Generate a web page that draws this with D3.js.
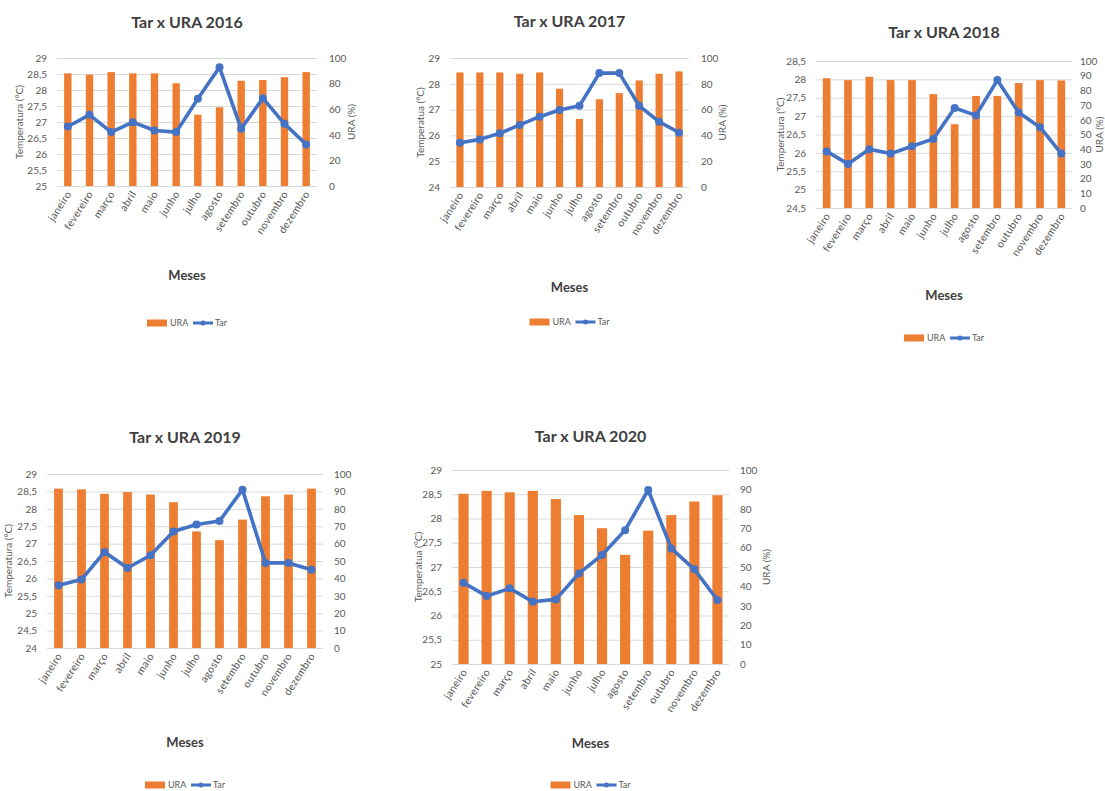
<!DOCTYPE html>
<html>
<head>
<meta charset="utf-8">
<script src="https://cdn.jsdelivr.net/npm/d3@7"></script>
<style>
  html, body { margin: 0; padding: 0; background: #fff; }
  svg { display: block; }
  text { font-family: Lato, "Open Sans", sans-serif; }
</style>
</head>
<body>
<svg id="fig" width="1105" height="791"></svg>
<script>
// Months on the category axis
const meses = ["janeiro", "fevereiro", "março", "abril", "maio", "junho",
  "julho", "agosto", "setembro", "outubro", "novembro", "dezembro"];

// Bar series (legend "URA"), read against the left axis
const ura2016 = [28.52, 28.48, 28.56, 28.52, 28.52, 28.21, 27.23, 27.46, 28.29, 28.31, 28.40, 28.56];
const ura2017 = [28.44, 28.44, 28.44, 28.39, 28.44, 27.81, 26.64, 27.40, 27.64, 28.13, 28.39, 28.48];
const ura2018 = [28.03, 27.98, 28.07, 27.98, 27.98, 27.60, 26.78, 27.55, 27.55, 27.90, 27.98, 27.97];
const ura2019 = [28.58, 28.56, 28.43, 28.48, 28.41, 28.19, 27.35, 27.10, 27.69, 28.36, 28.41, 28.58];
const ura2020 = [28.51, 28.57, 28.54, 28.57, 28.40, 28.07, 27.80, 27.25, 27.75, 28.07, 28.35, 28.48];

// Line series (legend "Tar"), read against the right axis
const tar2016 = [46.5, 55.6, 42.1, 49.9, 43.4, 42.1, 68.1, 92.7, 44.7, 68.6, 48.6, 32.5];
const tar2017 = [34.3, 36.9, 41.6, 48.1, 54.5, 59.7, 62.9, 88.3, 88.3, 62.9, 50.6, 42.1];
const tar2018 = [38.5, 30.0, 40.0, 37.0, 42.0, 47.0, 68.0, 63.0, 87.0, 65.0, 55.0, 37.0];
const tar2019 = [36.0, 39.3, 55.2, 46.0, 53.3, 67.0, 71.0, 73.0, 91.0, 48.9, 48.9, 45.0];
const tar2020 = [41.9, 35.0, 39.0, 32.1, 33.3, 46.7, 56.2, 69.0, 89.7, 59.6, 48.8, 33.0];

// Tick values of the left (temperature) axes
const ticksT2016 = [25, 25.5, 26, 26.5, 27, 27.5, 28, 28.5, 29];
const ticksT2017 = [24, 25, 26, 27, 28, 29];
const ticksT2018 = [24.5, 25, 25.5, 26, 26.5, 27, 27.5, 28, 28.5];
const ticksT2019 = [24, 24.5, 25, 25.5, 26, 26.5, 27, 27.5, 28, 28.5, 29];
const ticksT2020 = [25, 25.5, 26, 26.5, 27, 27.5, 28, 28.5, 29];

// Tick values of the right (URA %) axes
const ticksU20 = [0, 20, 40, 60, 80, 100];
const ticksU10 = [0, 10, 20, 30, 40, 50, 60, 70, 80, 90, 100];

const panels = [
  { ano: 2016, bars: ura2016, line: tar2016, tT: ticksT2016, tU: ticksU20,
    yTitle: "Temperatura (°C)", rTitle: true,
    x0: 57, x1: 317, yTop: 58, yBot: 186, pad: 0.66, rOff: 9,
    titleY: 28, mesesY: 280, legY: 323, lTitleX: 19, rTitleX: 351 },
  { ano: 2017, bars: ura2017, line: tar2017, tT: ticksT2017, tU: ticksU20,
    yTitle: "Temperatua (°C)", rTitle: true,
    x0: 450, x1: 689, yTop: 58, yBot: 187, pad: 0.64, rOff: 9,
    titleY: 27, mesesY: 292, legY: 322, lTitleX: 420, rTitleX: 722 },
  { ano: 2018, bars: ura2018, line: tar2018, tT: ticksT2018, tU: ticksU10,
    yTitle: "Temperatura (°C)", rTitle: true,
    x0: 816, x1: 1072, yTop: 61, yBot: 208, pad: 0.64, rOff: 5,
    titleY: 38, mesesY: 300, legY: 338, lTitleX: 780, rTitleX: 1099 },
  { ano: 2019, bars: ura2019, line: tar2019, tT: ticksT2019, tU: ticksU10,
    yTitle: "Temperatura (°C)", rTitle: false,
    x0: 47, x1: 323, yTop: 474, yBot: 648, pad: 0.62, rOff: 8,
    titleY: 443, mesesY: 747, legY: 785, lTitleX: 8, rTitleX: 357 },
  { ano: 2020, bars: ura2020, line: tar2020, tT: ticksT2020, tU: ticksU10,
    yTitle: "Temperatua (°C)", rTitle: true,
    x0: 452, x1: 729, yTop: 470, yBot: 664, pad: 0.56, rOff: 8,
    titleY: 442, mesesY: 748, legY: 785, lTitleX: 418, rTitleX: 766 }
];

const ORANGE = "#ED7D31";
const BLUE = "#4472C4";
const GRID = "#D9D9D9";
const LABEL = "#595959";
const fmtT = d => String(d).replace(".", ",");

const svg = d3.select("#fig");

panels.forEach(p => {
  const g = svg.append("g");
  const cx = (p.x0 + p.x1) / 2;
  const lo = p.tT[0], hi = p.tT[p.tT.length - 1];

  const x = d3.scaleBand().domain(meses).range([p.x0, p.x1])
    .paddingInner(p.pad).paddingOuter(p.pad / 2);
  const yL = d3.scaleLinear().domain([lo, hi]).range([p.yBot, p.yTop]);
  const yR = d3.scaleLinear().domain([0, 100]).range([p.yBot, p.yTop]);

  // horizontal gridlines at the temperature ticks
  const grid = g.append("g").attr("transform", `translate(${p.x0},0)`)
    .call(d3.axisLeft(yL).tickValues(p.tT).tickSize(-(p.x1 - p.x0)).tickFormat(""));
  grid.select(".domain").remove();
  grid.selectAll("line").attr("stroke", GRID).attr("stroke-width", 1);

  // left axis labels
  const axL = g.append("g").attr("transform", `translate(${p.x0 - 7},0)`)
    .call(d3.axisLeft(yL).tickValues(p.tT).tickSize(0).tickFormat(fmtT));
  axL.select(".domain").remove();
  axL.selectAll("text").attr("fill", LABEL).style("font-size", "10px");

  // right axis labels
  const axR = g.append("g").attr("transform", `translate(${p.x1 + p.rOff},0)`)
    .call(d3.axisRight(yR).tickValues(p.tU).tickSize(0));
  axR.select(".domain").remove();
  axR.selectAll("text").attr("fill", LABEL).style("font-size", "10px");

  // month labels under each bar
  const axB = g.append("g").attr("transform", `translate(0,${p.yBot})`)
    .call(d3.axisBottom(x).tickSize(0));
  axB.select(".domain").remove();
  axB.selectAll("text")
    .attr("fill", LABEL).style("font-size", "10.5px")
    .style("letter-spacing", "0.3px")
    .attr("text-anchor", "end")
    .attr("dy", null).attr("y", 0)
    .attr("transform", "translate(4,8) rotate(-57)");

  // bars
  g.append("g").selectAll("rect").data(p.bars).join("rect")
    .attr("x", (d, i) => x(meses[i]))
    .attr("width", x.bandwidth())
    .attr("y", d => yL(d))
    .attr("height", d => yL(lo) - yL(d))
    .attr("fill", ORANGE);

  // line with markers
  const line = d3.line()
    .x((d, i) => x(meses[i]) + x.bandwidth() / 2)
    .y(d => yR(d));
  g.append("path").datum(p.line)
    .attr("d", line).attr("fill", "none")
    .attr("stroke", BLUE).attr("stroke-width", 3.6)
    .attr("stroke-linejoin", "round").attr("stroke-linecap", "round");
  g.append("g").selectAll("circle").data(p.line).join("circle")
    .attr("cx", (d, i) => x(meses[i]) + x.bandwidth() / 2)
    .attr("cy", d => yR(d))
    .attr("r", 4).attr("fill", BLUE);

  // chart title
  g.append("text").attr("x", cx).attr("y", p.titleY)
    .attr("text-anchor", "middle").attr("fill", "#404040")
    .style("font-size", "16px").style("font-weight", "bold")
    .text(`Tar x URA ${p.ano}`);

  // axis titles
  const midY = (p.yTop + p.yBot) / 2;
  g.append("text")
    .attr("transform", `translate(${p.lTitleX},${midY}) rotate(-90)`)
    .attr("text-anchor", "middle").attr("dy", "0.35em")
    .attr("fill", LABEL).style("font-size", "10px")
    .text(p.yTitle);
  if (p.rTitle) {
    g.append("text")
      .attr("transform", `translate(${p.rTitleX},${midY}) rotate(-90)`)
      .attr("text-anchor", "middle").attr("dy", "0.35em")
      .attr("fill", LABEL).style("font-size", "10px")
      .text("URA (%)");
  }
  g.append("text").attr("x", cx).attr("y", p.mesesY)
    .attr("text-anchor", "middle").attr("fill", "#404040")
    .style("font-size", "13px").style("font-weight", "bold")
    .text("Meses");

  // legend
  const leg = g.append("g").attr("transform", `translate(${cx - 40},${p.legY})`);
  leg.append("rect").attr("x", 0).attr("y", -3.5).attr("width", 20).attr("height", 7).attr("fill", ORANGE);
  leg.append("text").attr("x", 23).attr("y", 0).attr("dy", "0.35em")
    .attr("fill", LABEL).style("font-size", "9px").text("URA");
  leg.append("line").attr("x1", 46).attr("x2", 66).attr("y1", 0).attr("y2", 0)
    .attr("stroke", BLUE).attr("stroke-width", 3);
  leg.append("circle").attr("cx", 56).attr("cy", 0).attr("r", 2.5).attr("fill", BLUE);
  leg.append("text").attr("x", 68).attr("y", 0).attr("dy", "0.35em")
    .attr("fill", LABEL).style("font-size", "9px").text("Tar");
});
</script>
</body>
</html>
